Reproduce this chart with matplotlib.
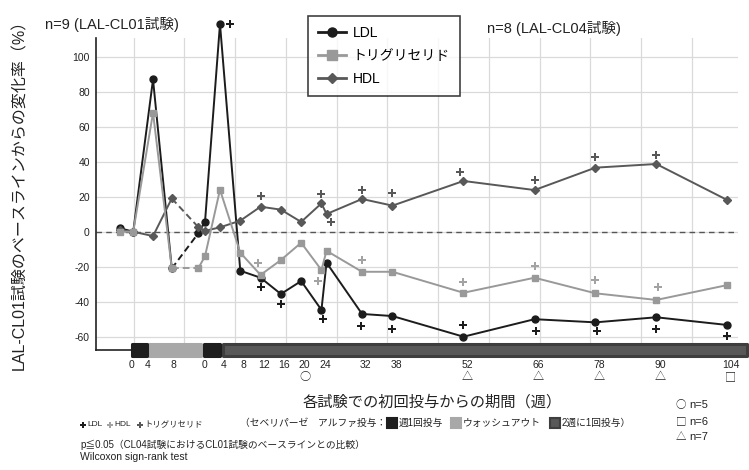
import matplotlib
matplotlib.use("Agg")
import matplotlib.pyplot as plt
import numpy as np
from matplotlib.lines import Line2D
from matplotlib.patches import Rectangle
import matplotlib.transforms as mtransforms

plt.rcParams['font.family'] = ['Liberation Sans', 'Noto Sans CJK JP', 'DejaVu Sans']

# ---------------- data ----------------
# week -1 = pre-treatment baseline visit of each study
cl01_weeks = [-1, 0, 4, 8]
cl04_weeks = [-1, 0, 4, 8, 12, 16, 20, 24, 25, 32, 38, 52, 66, 78, 90, 104]

ldl_cl01 = [2, 0, 87, -21]
tg_cl01 = [0, 0, 68, -21]
hdl_cl01 = [1, 0, -2.5, 19]

ldl_cl04 = [-1, 5.7, 118.7, -22.3, -26.3, -35.6, -28.2, -44.7, -17.7, -47, -48.2, -60, -50, -51.8, -48.9, -53.3]
tg_cl04 = [-21, -14, 24, -12, -24.7, -16.2, -6.3, -21.9, -10.9, -22.9, -22.9, -34.9, -26.3, -35.2, -39, -30.5]
hdl_cl04 = [2.7, 0.5, 2.5, 6.3, 14.3, 12.6, 5.6, 16.2, 10.1, 18.7, 14.9, 29, 23.8, 36.6, 38.7, 18.1]

# significance marks (p<=0.05), CL04 weeks and their drawn heights
ldl_sig_weeks = [6.0, 12, 16, 24.4, 31.7, 38, 52, 66.2, 78.3, 90, 104.2]
ldl_sig_y = [118.7, -31.4, -41.3, -49.9, -53.7, -55.6, -53.3, -56.7, -56.7, -55.6, -59.6]
hdl_sig_weeks = [12, 24, 25.8, 32, 37.9, 51.4, 66.1, 78, 90]
hdl_sig_y = [20.4, 21.5, 5.7, 23.8, 22.3, 34.3, 29.5, 42.9, 43.8]
tg_sig_weeks = [11.5, 23.3, 32, 52, 66, 78, 90.3]
tg_sig_y = [-18.1, -28, -16.2, -28.6, -19.4, -27.6, -31.4]

cl01_tick_weeks = [0, 4, 8]
cl04_tick_weeks = [0, 4, 8, 12, 16, 20, 24, 32, 38, 52, 66, 78, 90, 104]
n_marks = {20: '○', 52: '△', 66: '△', 78: '△', 90: '△', 104: '□'}

# ---------------- layout helpers (x scale) ----------------
def pos_cl01(w):
    return np.interp(w, [-1, 0, 4, 8], [-15.7, -13.1, -9.2, -5.5])

def pos_cl04(w):
    return np.interp(w, [-1, 0, 4, 104], [-0.3, 1.05, 4, 104])

W, H = 749, 470
fig = plt.figure(figsize=(W / 100, H / 100), dpi=100)
ax = fig.add_axes([96 / W, 120 / H, 642 / W, 312 / H])
ax.set_xlim(-20.44, 106.11)
ax.set_ylim(-67.6, 110.7)

c_ldl, c_tg, c_hdl = '#1c1c1c', '#999999', '#585858'
c_tg_sig = '#a3a3a3'
CJK = ['Noto Sans CJK JP', 'DejaVu Sans']

# grid
ax.set_xticks(np.arange(-13, 98, 10), minor=True)
ax.grid(which='minor', axis='x', color='#dadada', lw=0.9)
ax.grid(which='major', axis='y', color='#dadada', lw=0.9)
ax.set_axisbelow(True)
ax.axhline(0, color='#555555', lw=1.0, ls=(0, (4, 3)), zorder=2)

series = [
    (ldl_cl01, ldl_cl04, c_ldl, 'o', 5.0, 3),
    (hdl_cl01, hdl_cl04, c_hdl, 'D', 3.6, 4),
    (tg_cl01, tg_cl04, c_tg, 's', 5.0, 5),
]
for v1, v4, col, mk, ms, z in series:
    x1 = pos_cl01(cl01_weeks)
    x4 = pos_cl04(cl04_weeks)
    ax.plot(x1, v1, color=col, lw=1.4, marker=mk, ms=ms, zorder=z, clip_on=False)
    ax.plot([x1[-1], x4[0]], [v1[-1], v4[0]], color=col, lw=1.4, ls=(0, (3.5, 2)), zorder=z - 0.5)
    ax.plot(x4, v4, color=col, lw=1.4, marker=mk, ms=ms, zorder=z, clip_on=False)

for xs, ys, col in [(ldl_sig_weeks, ldl_sig_y, c_ldl), (hdl_sig_weeks, hdl_sig_y, c_hdl),
                    (tg_sig_weeks, tg_sig_y, c_tg_sig)]:
    ax.plot(pos_cl04(xs), ys, ls='none', marker='P', ms=6.3, color=col, mec=col, mew=0,
            zorder=6, clip_on=False)

# dosing bar along the bottom
trans = mtransforms.blended_transform_factory(ax.transData, ax.transAxes)
phases = [(-10.3, 0.6, '#a8a8a8'), (4.2, 108.1, '#585858'), (-13.6, -10.0, '#1e1e1e'), (0.6, 4.4, '#1e1e1e')]
for x0, x1, col in phases:
    r = Rectangle((x0 + 0.3, -0.0208), (x1 - x0) - 0.6, 0.0385, transform=trans, facecolor=col,
                  edgecolor=col if col != '#585858' else '#3e3e3e', lw=2.2, joinstyle='round',
                  clip_on=False, zorder=7)
    ax.add_patch(r)

# ticks
tick_pos = list(np.array([-13.35, -10.2, -5.1]))
tick_lab = [str(w) for w in cl01_tick_weeks]
for w in cl04_tick_weeks:
    p = float(pos_cl04(w)) + (0.7 if w >= 4 else -0.2)
    tick_pos.append(p)
    tick_lab.append(str(w))
    if w in n_marks:
        ax.text(p, -0.087, n_marks[w], transform=trans, ha='center', va='center',
                fontsize=8, family=CJK, color='#222222')
ax.set_xticks(tick_pos)
ax.set_xticklabels(tick_lab, fontsize=7.5, color='#222222')
ax.tick_params(axis='x', which='both', length=0, pad=7)
ax.set_yticks(np.arange(-60, 101, 20))
ax.set_yticklabels([str(v) for v in range(-60, 101, 20)], fontsize=7.5, color='#222222')
ax.tick_params(axis='y', length=0, pad=4.5)

for s in ['top', 'right']:
    ax.spines[s].set_visible(False)
for s in ['left', 'bottom']:
    ax.spines[s].set_color('#222222')
    ax.spines[s].set_linewidth(1.2)

# legend
handles = [
    Line2D([], [], color=c_ldl, marker='o', ms=6.5, lw=2, label='LDL'),
    Line2D([], [], color=c_tg, marker='s', ms=6.5, lw=2, label='トリグリセリド'),
    Line2D([], [], color=c_hdl, marker='D', ms=5.0, lw=2, label='HDL'),
]
leg = fig.legend(handles=handles, loc='upper left', bbox_to_anchor=(308 / W, 1 - 15.7 / H),
                 bbox_transform=fig.transFigure, frameon=True, fancybox=False, edgecolor='#111111',
                 fontsize=10, handlelength=2.0, handletextpad=0.5, borderpad=0.72,
                 labelspacing=0.66, borderaxespad=0)
leg.get_frame().set_linewidth(1.2)


def ftext(x, y, s, **kw):
    kw.setdefault('va', 'center')
    kw.setdefault('ha', 'left')
    kw.setdefault('color', '#222222')
    return fig.text(x / W, 1 - y / H, s, **kw)


def fmark(x, y, **kw):
    fig.add_artist(Line2D([x / W], [1 - y / H], transform=fig.transFigure, ls='none', **kw))


ftext(45, 24, 'n=9 (LAL-CL01試験)', fontsize=10.5)
ftext(487, 28, 'n=8 (LAL-CL04試験)', fontsize=10.5)
ftext(20, 191, 'LAL-CL01試験のベースラインからの変化率（%）', rotation=90, ha='center', fontsize=11.5)
ftext(432.5, 402, '各試験での初回投与からの期間（週）', ha='center', fontsize=11)

yb = 422.5
ftext(240, yb, '（セベリパーゼ　アルファ投与：', fontsize=7)
fmark(392, yb, marker='s', ms=7, color='#1e1e1e', mew=1.5, solid_joinstyle='round')
ftext(399, yb, '週1回投与', fontsize=7)
fmark(456, yb, marker='s', ms=7, color='#a8a8a8', mew=1.5, solid_joinstyle='round')
ftext(463, yb, 'ウォッシュアウト', fontsize=7)
fmark(555, yb, marker='s', ms=7, color='#585858', mec='#3e3e3e', mew=1.5, solid_joinstyle='round')
ftext(562, yb, '2週に1回投与）', fontsize=7)

fmark(83, 425, marker='P', ms=4.5, color=c_ldl, mew=0)
ftext(87.3, 425, 'LDL', fontsize=6)
fmark(110, 425, marker='P', ms=4.5, color=c_tg_sig, mew=0)
ftext(114, 425, 'HDL', fontsize=6)
fmark(140, 425, marker='P', ms=4.5, color=c_hdl, mew=0)
ftext(144, 425, 'トリグリセリド', fontsize=6)
ftext(80, 445, 'p≦0.05（CL04試験におけるCL01試験のベースラインとの比較）', fontsize=7)
ftext(80, 457, 'Wilcoxon sign-rank test', fontsize=7.5)

for yy, sym, lab in [(405, '○', 'n=5'), (421.7, '□', 'n=6'), (437.3, '△', 'n=7')]:
    ftext(676, yy, sym, fontsize=7.5, family=CJK)
    ftext(689, yy, lab, fontsize=8)

fig.savefig('out.png', dpi=100)
